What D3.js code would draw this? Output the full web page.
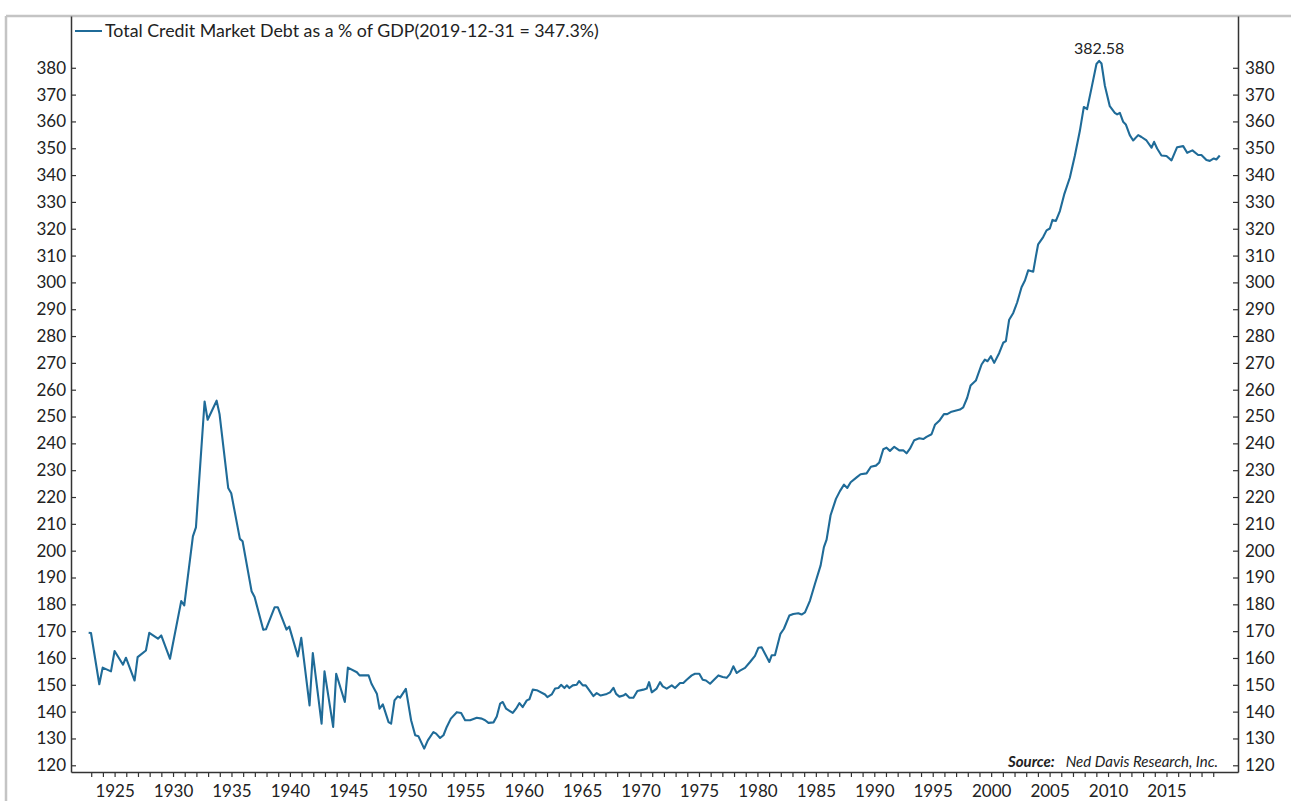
<!DOCTYPE html>
<html>
<head>
<meta charset="utf-8">
<script src="https://cdn.jsdelivr.net/npm/d3@7"></script>
<style>
body { margin: 0; background: #fff; }
text { font-family: Lato, "Open Sans", sans-serif; fill: #222; }
</style>
</head>
<body>
<script>
var dates = [
  1922.78, 1922.98, 1923.69, 1923.98, 1924.69, 1925.00, 1925.72, 1925.97, 1926.71, 1926.97,
  1927.68, 1927.97, 1928.71, 1928.99, 1929.74, 1930.70, 1930.96, 1931.70, 1931.96, 1932.70,
  1932.96, 1933.73, 1933.98, 1934.72, 1934.98, 1935.72, 1935.95, 1936.72, 1936.98, 1937.72,
  1937.95, 1938.69, 1938.97, 1939.71, 1939.94, 1940.68, 1940.97, 1941.68, 1941.96, 1942.71,
  1942.96, 1943.70, 1943.96, 1944.70, 1944.96, 1945.73, 1945.96, 1946.73, 1946.98, 1947.44,
  1947.67, 1947.95, 1948.44, 1948.66, 1948.95, 1949.23, 1949.43, 1949.92, 1950.37, 1950.72,
  1951.00, 1951.49, 1951.80, 1952.28, 1952.51, 1952.85, 1953.14, 1953.42, 1953.77, 1954.28,
  1954.65, 1954.99, 1955.42, 1955.99, 1956.42, 1956.70, 1956.99, 1957.42, 1957.70, 1957.99,
  1958.21, 1958.50, 1959.07, 1959.35, 1959.64, 1959.92, 1960.27, 1960.49, 1960.78, 1961.12,
  1961.83, 1962.03, 1962.40, 1962.69, 1962.97, 1963.20, 1963.49, 1963.69, 1963.91, 1964.20,
  1964.54, 1964.74, 1965.06, 1965.31, 1965.62, 1965.97, 1966.25, 1966.59, 1967.11, 1967.39,
  1967.68, 1967.91, 1968.19, 1968.53, 1968.73, 1969.05, 1969.39, 1969.73, 1970.24, 1970.53,
  1970.73, 1970.96, 1971.38, 1971.67, 1971.90, 1972.24, 1972.67, 1972.95, 1973.38, 1973.66,
  1973.95, 1974.38, 1974.66, 1975.03, 1975.32, 1975.60, 1975.95, 1976.29, 1976.66, 1977.03,
  1977.37, 1977.66, 1977.94, 1978.23, 1978.51, 1978.94, 1979.37, 1979.79, 1980.08, 1980.36,
  1980.65, 1981.02, 1981.22, 1981.50, 1981.97, 1982.27, 1982.73, 1983.07, 1983.50, 1983.78,
  1984.07, 1984.50, 1984.92, 1985.41, 1985.69, 1985.92, 1986.26, 1986.72, 1987.06, 1987.41,
  1987.69, 1987.98, 1988.49, 1988.83, 1989.34, 1989.71, 1990.14, 1990.43, 1990.77, 1991.05,
  1991.34, 1991.71, 1992.14, 1992.48, 1992.76, 1993.05, 1993.42, 1993.85, 1994.19, 1994.47,
  1994.90, 1995.19, 1995.56, 1995.96, 1996.24, 1996.61, 1997.33, 1997.61, 1997.95, 1998.24,
  1998.69, 1999.18, 1999.46, 1999.69, 1999.98, 2000.26, 2000.69, 2001.03, 2001.26, 2001.54,
  2001.89, 2002.23, 2002.60, 2002.89, 2003.17, 2003.60, 2003.83, 2004.02, 2004.45, 2004.74,
  2005.02, 2005.25, 2005.54, 2005.88, 2006.25, 2006.73, 2007.16, 2007.59, 2007.93, 2008.21,
  2008.59, 2009.01, 2009.24, 2009.44, 2009.73, 2010.15, 2010.58, 2010.78, 2011.01, 2011.29,
  2011.52, 2011.86, 2012.15, 2012.58, 2012.86, 2013.29, 2013.72, 2013.94, 2014.20, 2014.57,
  2015.00, 2015.43, 2015.91, 2016.43, 2016.77, 2017.22, 2017.71, 2017.99, 2018.42, 2018.71,
  2019.05, 2019.27, 2019.56
];
var values = [
  169.4, 169.3, 150.2, 156.4, 155.0, 162.6, 157.5, 160.1, 151.6, 160.3,
  162.8, 169.4, 167.2, 168.4, 159.7, 181.2, 179.6, 205.3, 208.7, 255.6,
  248.8, 255.9, 250.9, 223.4, 221.4, 204.4, 203.5, 184.9, 182.7, 170.5,
  170.7, 178.9, 178.9, 170.6, 171.7, 160.6, 167.5, 142.3, 161.8, 135.5,
  155.0, 134.3, 154.1, 143.6, 156.4, 154.7, 153.5, 153.5, 150.4, 146.7,
  141.1, 142.7, 136.1, 135.5, 144.2, 145.7, 145.2, 148.5, 136.8, 131.2,
  130.8, 126.2, 129.3, 132.4, 131.8, 130.2, 131.2, 134.3, 137.4, 139.8,
  139.5, 136.8, 136.8, 137.7, 137.4, 136.8, 135.8, 136.0, 138.2, 143.0,
  143.6, 141.1, 139.5, 141.1, 143.2, 141.7, 144.2, 144.6, 148.2, 148.0,
  146.4, 145.4, 146.4, 148.6, 148.8, 150.0, 148.8, 149.8, 148.8, 149.8,
  150.0, 151.4, 149.8, 149.8, 147.9, 145.8, 146.9, 146.0, 146.6, 147.2,
  148.9, 146.6, 145.6, 146.0, 146.6, 145.2, 145.2, 147.7, 148.2, 148.6,
  151.0, 147.2, 148.6, 151.0, 149.4, 148.6, 149.8, 148.8, 150.7, 150.7,
  151.9, 153.5, 154.1, 154.1, 151.9, 151.6, 150.4, 151.9, 153.5, 152.9,
  152.6, 154.1, 156.9, 154.4, 155.3, 156.3, 158.5, 160.8, 163.8, 164.0,
  161.6, 158.5, 161.0, 161.0, 169.0, 170.9, 175.8, 176.4, 176.7, 176.2,
  177.0, 181.4, 187.6, 194.5, 201.3, 204.1, 213.2, 219.3, 222.2, 224.6,
  223.4, 225.5, 227.3, 228.5, 228.8, 231.3, 231.7, 232.9, 237.8, 238.4,
  237.2, 238.7, 237.4, 237.4, 236.3, 238.0, 241.2, 241.9, 241.6, 242.4,
  243.4, 246.9, 248.4, 250.9, 250.9, 251.8, 252.6, 253.4, 257.0, 261.6,
  263.4, 269.4, 271.2, 270.6, 272.5, 270.0, 273.7, 277.5, 278.1, 286.1,
  288.6, 292.6, 298.2, 300.7, 304.5, 304.0, 309.8, 314.2, 316.9, 319.4,
  320.1, 323.3, 322.9, 326.6, 332.8, 339.0, 347.2, 356.5, 365.4, 364.6,
  372.5, 381.4, 382.58, 381.6, 373.3, 365.7, 363.2, 362.6, 363.2, 359.9,
  358.9, 354.9, 352.9, 354.9, 354.2, 352.9, 350.2, 352.4, 349.9, 347.3,
  347.1, 345.5, 350.4, 350.8, 348.3, 349.2, 347.5, 347.5, 345.6, 345.3,
  346.2, 345.8, 347.3
];

var yTicks = [120, 130, 140, 150, 160, 170, 180, 190, 200, 210, 220, 230, 240, 250,
              260, 270, 280, 290, 300, 310, 320, 330, 340, 350, 360, 370, 380];
var xLabelYears = [1925, 1930, 1935, 1940, 1945, 1950, 1955, 1960, 1965, 1970,
                   1975, 1980, 1985, 1990, 1995, 2000, 2005, 2010, 2015];
var firstTickYear = 1923, lastTickYear = 2019;

var legendText = "Total Credit Market Debt as a % of GDP(2019-12-31 = 347.3%)";
var sourceLabel = "Source:";
var sourceName = "Ned Davis Research, Inc.";

var lineColor = "#1f6b98";
var W = 1291, H = 801;

var svg = d3.select("body").append("svg")
  .attr("width", W)
  .attr("height", H);

var xScale = d3.scaleLinear().domain([1921.27, 2021.12]).range([71, 1238]);
var yScale = d3.scaleLinear().domain([117.5, 399.3]).range([772, 16]);

// outer grey frame
svg.append("line").attr("x1", 6).attr("x2", W).attr("y1", 16).attr("y2", 16)
  .attr("stroke", "#c4c4c4").attr("stroke-width", 2.5);
svg.append("line").attr("x1", 6).attr("x2", 6).attr("y1", 16).attr("y2", H)
  .attr("stroke", "#c4c4c4").attr("stroke-width", 2.5);

// axes
var tickYears = d3.range(firstTickYear, lastTickYear + 1);

var xAxis = d3.axisBottom(xScale)
  .tickValues(tickYears)
  .tickSizeInner(5)
  .tickSizeOuter(0)
  .tickPadding(8)
  .tickFormat(function(d) { return xLabelYears.indexOf(d) >= 0 ? d : ""; });

var yAxisL = d3.axisLeft(yScale).tickValues(yTicks).tickSizeInner(-5).tickSizeOuter(0).tickPadding(5);
var yAxisR = d3.axisRight(yScale).tickValues(yTicks).tickSizeInner(-5).tickSizeOuter(0).tickPadding(7);

var gx = svg.append("g").attr("transform", "translate(0,772)").call(xAxis);
var gl = svg.append("g").attr("transform", "translate(71,0)").call(yAxisL);
var gr = svg.append("g").attr("transform", "translate(1238,0)").call(yAxisR);

[gx, gl, gr].forEach(function(g) {
  g.select(".domain").attr("stroke", "#333").attr("stroke-width", 1.5);
  g.selectAll(".tick line").attr("stroke", "#333").attr("stroke-width", 1.2);
  g.selectAll(".tick text").style("font-family", "Lato, sans-serif").style("font-size", "17px").attr("fill", "#222");
});

// the series
var linePath = d3.line()
  .x(function(d, i) { return xScale(dates[i]); })
  .y(function(d) { return yScale(d); });

svg.append("path")
  .attr("d", linePath(values))
  .attr("fill", "none")
  .attr("stroke", lineColor)
  .attr("stroke-width", 2.1)
  .attr("stroke-linejoin", "round");

// peak annotation
var peakIdx = d3.maxIndex(values);
svg.append("text")
  .attr("x", xScale(dates[peakIdx]))
  .attr("y", yScale(values[peakIdx]) - 7)
  .attr("text-anchor", "middle")
  .style("font-size", "16px")
  .text(values[peakIdx].toFixed(2));

// legend
svg.append("line")
  .attr("x1", 75).attr("x2", 102).attr("y1", 31).attr("y2", 31)
  .attr("stroke", lineColor).attr("stroke-width", 2);
svg.append("text")
  .attr("x", 105).attr("y", 37)
  .style("font-size", "17.8px")
  .text(legendText);

// source note
var src = svg.append("text")
  .attr("x", 1218).attr("y", 767)
  .attr("text-anchor", "end")
  .style("font-size", "15px")
  .style("font-style", "italic");
src.append("tspan").style("font-weight", "bold").text(sourceLabel);
src.append("tspan").attr("dx", 11).text(sourceName);
</script>
</body>
</html>
